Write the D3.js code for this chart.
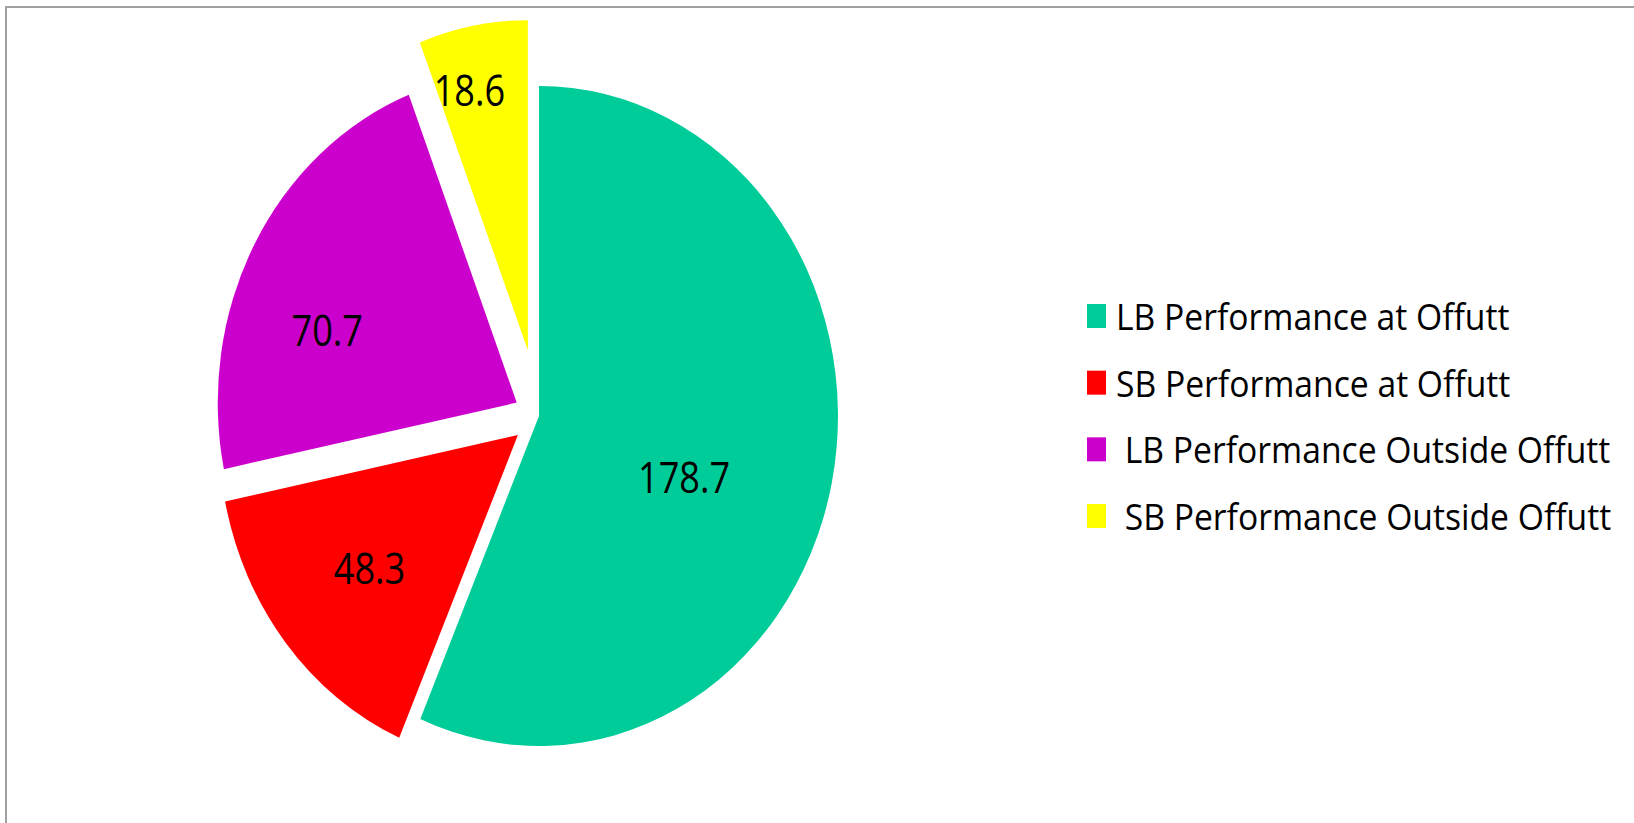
<!DOCTYPE html>
<html>
<head>
<meta charset="utf-8">
<script src="https://cdn.jsdelivr.net/npm/d3@7"></script>
<style>
  html, body { margin: 0; padding: 0; background: #fff; }
  svg { display: block; }
</style>
</head>
<body>
<svg id="vis" width="1634" height="823"></svg>
<script>
// data
const categories = [
  "LB Performance at Offutt",
  "SB Performance at Offutt",
  " LB Performance Outside Offutt",
  " SB Performance Outside Offutt"
];
const values = [178.7, 48.3, 70.7, 18.6];
const colors = ["#00cc99", "#ff0000", "#cc00cc", "#ffff00"];

// layout
const W = 1634, H = 823;
const cx = 539, cy = 416, R = 330;
const sx = 0.906;          // pie is a bit squashed horizontally
const explode = [0, 30, 28, 67];
// label spot: [fraction along slice angle, fraction of radius]
const labelSpot = [[0.546, 0.52], [0.5, 0.64], [0.38, 0.67], [0.34, 0.81]];

const svg = d3.select("#vis");

svg.append("rect")
  .attr("width", W).attr("height", H)
  .attr("fill", "#fff");

// border (right and bottom run off the picture)
svg.append("rect")
  .attr("x", 6).attr("y", 7)
  .attr("width", W + 50).attr("height", H + 50)
  .attr("fill", "none")
  .attr("stroke", "#a0a0a0")
  .attr("stroke-width", 2);

const pie = d3.pie().sort(null).value(d => d);
const arcs = pie(values);
const arc = d3.arc().innerRadius(0).outerRadius(R);

const slices = svg.append("g").attr("class", "slices");

slices.selectAll("path")
  .data(arcs)
  .join("path")
  .attr("d", arc)
  .attr("fill", (d, i) => colors[i])
  .attr("transform", (d, i) => {
    const mid = (d.startAngle + d.endAngle) / 2;
    const dx = Math.sin(mid) * explode[i];
    const dy = -Math.cos(mid) * explode[i];
    return `translate(${cx + dx * sx},${cy + dy}) scale(${sx},1)`;
  });

// value labels
svg.append("g")
  .selectAll("text")
  .data(arcs)
  .join("text")
  .attr("transform", (d, i) => {
    const mid = (d.startAngle + d.endAngle) / 2;
    const a = d.startAngle + (d.endAngle - d.startAngle) * labelSpot[i][0];
    const r = R * labelSpot[i][1];
    const x = (Math.sin(mid) * explode[i] + Math.sin(a) * r) * sx + cx;
    const y = -Math.cos(mid) * explode[i] - Math.cos(a) * r + cy;
    return `translate(${x},${y}) scale(0.84,1)`;
  })
  .attr("text-anchor", "middle")
  .attr("dy", "0.36em")
  .attr("font-family", "'Open Sans', sans-serif")
  .attr("font-size", 43)
  .attr("fill", "#000")
  .text(d => d.data.toFixed(1));

// legend
const ly = d3.scalePoint().domain(categories).range([330, 530]);

const legend = svg.append("g").attr("class", "legend");
const items = legend.selectAll("g")
  .data(categories)
  .join("g")
  .attr("transform", d => `translate(0,${ly(d)})`);

items.append("rect")
  .attr("x", 1087)
  .attr("y", -26)
  .attr("width", 19)
  .attr("height", 24)
  .attr("fill", (d, i) => colors[i]);

items.append("text")
  .attr("transform", "translate(1116,0) scale(0.91,1)")
  .attr("font-family", "'Open Sans', sans-serif")
  .attr("font-size", 37)
  .attr("fill", "#000")
  .style("white-space", "pre")
  .text(d => d);
</script>
</body>
</html>
